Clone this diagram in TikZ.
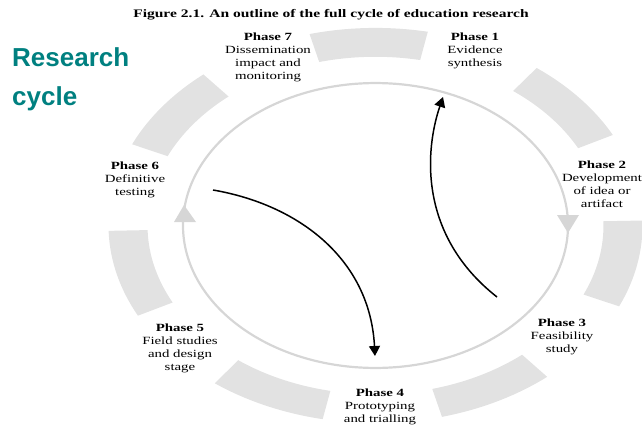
\documentclass[tikz,border=0pt]{standalone}
\usepackage{fontspec}
\setmainfont{Liberation Serif}[FakeStretch=1.35]
\newfontfamily\headfont{Liberation Sans}
\definecolor{headteal}{RGB}{0,128,128}
\definecolor{segfill}{RGB}{226,226,226}
\definecolor{ringgray}{RGB}{214,214,214}
\usetikzlibrary{arrows.meta}

\begin{document}
\begin{tikzpicture}[x=1pt,y=-1pt,
    segment/.style={fill=segfill},
    ring/.style={draw=ringgray, line width=2.2pt},
    marker/.style={fill=ringgray},
    phase/.style={align=center, font=\fontsize{11}{13}\selectfont, inner sep=0pt},
    head/.style={anchor=base west, inner sep=0pt, text=headteal, font=\headfont\fontsize{26}{30}\selectfont\bfseries},
    flow/.style={line width=1.5pt, -{Triangle[length=10pt,width=11pt]}}]

    \useasboundingbox (0,0) rectangle (642,425);

    \node[font=\fontsize{11.5}{13}\selectfont\bfseries] (title) at (331,15) {Figure 2.1. An outline of the full cycle of education research};
    \node[head] (head1) at (12,67) {Research};
    \node[head] (head2) at (12,106) {cycle};

    % outer ring of seven blocks and the inner cycle
    \begin{scope}[shift={(375.5,225.5)}, yscale=-0.74]
    \foreach \k in {0,...,6} {
        \pgfmathsetmacro\a{91.5+\k*360/7-12.8}
        \pgfmathsetmacro\b{91.5+\k*360/7+12.8}
        \fill[segment] (\a:228) arc[start angle=\a, end angle=\b, radius=228]
            -- (\b:267) arc[start angle=\b, end angle=\a, radius=267] -- cycle;
    }
    \draw[ring] (0,0) circle[radius=192.5];
    \end{scope}

    \fill[marker] (557,215) -- (579,215) -- (568,233) -- cycle;
    \fill[marker] (174,222) -- (196,222) -- (184,205) -- cycle;

    \node[phase] (p1) at (475,51) {\textbf{Phase 1}\\Evidence\\synthesis};
    \node[phase] (p2) at (602,184.5) {\textbf{Phase 2}\\Development\\of idea or\\artifact};
    \node[phase] (p3) at (562,337) {\textbf{Phase 3}\\Feasibility\\study};
    \node[phase] (p4) at (380,407) {\textbf{Phase 4}\\Prototyping\\and trialling};
    \node[phase] (p5) at (180,348) {\textbf{Phase 5}\\Field studies\\and design\\stage};
    \node[phase] (p6) at (135,180) {\textbf{Phase 6}\\Definitive\\testing};
    \node[phase] (p7) at (268,57.5) {\textbf{Phase 7}\\Dissemination\\impact and\\monitoring};

    \coordinate (up0) at (497,297);
    \coordinate (up1) at (443,97);
    \coordinate (dn0) at (213,190);
    \coordinate (dn1) at (375,356);
    \draw[flow] (up0) .. controls (418,235) and (425,150) .. (up1);
    \draw[flow] (dn0) .. controls (300,205) and (370,260) .. (dn1);
    %
\end{tikzpicture}
\end{document}
